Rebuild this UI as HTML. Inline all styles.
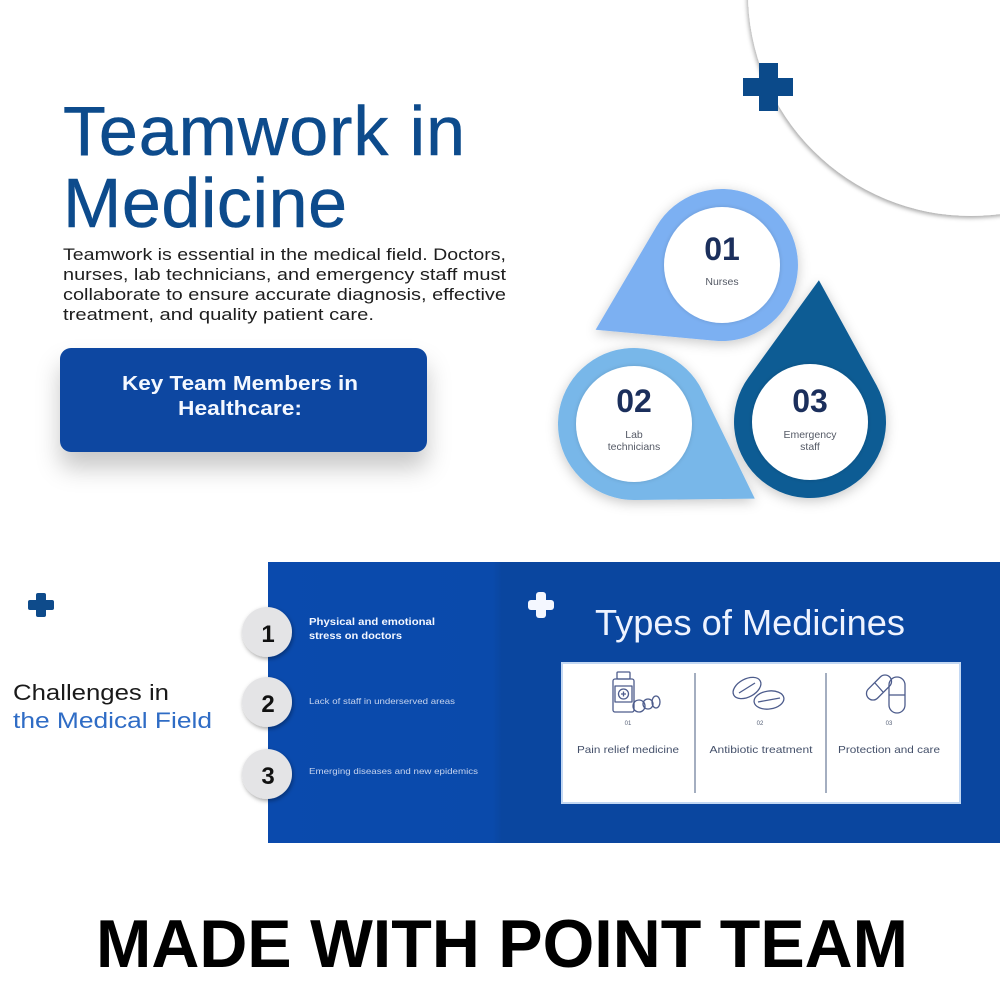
<!DOCTYPE html>
<html>
<head>
<meta charset="utf-8">
<style>
  html,body{margin:0;padding:0;background:#fff;}
  body{width:1000px;height:1000px;overflow:hidden;}
  svg{display:block;font-family:"Liberation Sans", Arial, sans-serif;}
</style>
</head>
<body>
<svg width="1000" height="1000" viewBox="0 0 1000 1000" xmlns="http://www.w3.org/2000/svg">
  <defs>
    <filter id="circShadow" x="-20%" y="-20%" width="140%" height="140%">
      <feDropShadow dx="-1" dy="2" stdDeviation="2" flood-color="#000" flood-opacity="0.35"/>
    </filter>
    <filter id="boxShadow" x="-20%" y="-30%" width="140%" height="190%">
      <feDropShadow dx="0" dy="16" stdDeviation="12" flood-color="#000" flood-opacity="0.22"/>
    </filter>
    <filter id="dropShadow" x="-30%" y="-30%" width="160%" height="160%">
      <feDropShadow dx="0" dy="3" stdDeviation="6" flood-color="#000" flood-opacity="0.22"/>
    </filter>
    <filter id="numShadow" x="-40%" y="-40%" width="180%" height="180%">
      <feDropShadow dx="1" dy="2" stdDeviation="2" flood-color="#000" flood-opacity="0.35"/>
    </filter>
    <filter id="innerSh" x="-20%" y="-20%" width="140%" height="140%">
      <feDropShadow dx="0" dy="0" stdDeviation="2" flood-color="#000" flood-opacity="0.15"/>
    </filter>
    <linearGradient id="leftPanel" x1="0" y1="0" x2="1" y2="0">
      <stop offset="0" stop-color="#0a4aad"/>
      <stop offset="0.96" stop-color="#0a4aab"/>
      <stop offset="1" stop-color="#0a469f"/>
    </linearGradient>
  </defs>

  <!-- top-right big circle -->
  <circle cx="971" cy="-7" r="223" fill="#fff" filter="url(#circShadow)"/>
  <!-- plus top -->
  <rect x="759" y="63" width="19" height="48" fill="#0b4a8a"/>
  <rect x="743" y="78" width="50" height="18" fill="#0b4a8a"/>

  <!-- Title -->
  <g fill="#0d4b8c" stroke="#0d4b8c" stroke-width="0.5">
    <text x="63" y="155" font-size="70" textLength="402" lengthAdjust="spacing">Teamwork in</text>
    <text x="63" y="227" font-size="70" textLength="284" lengthAdjust="spacing">Medicine</text>
  </g>

  <!-- Body -->
  <g font-size="16.5" fill="#1e1e1e">
    <text x="63" y="260" textLength="443" lengthAdjust="spacingAndGlyphs">Teamwork is essential in the medical field. Doctors,</text>
    <text x="63" y="280" textLength="443" lengthAdjust="spacingAndGlyphs">nurses, lab technicians, and emergency staff must</text>
    <text x="63" y="300" textLength="443" lengthAdjust="spacingAndGlyphs">collaborate to ensure accurate diagnosis, effective</text>
    <text x="63" y="320" textLength="311" lengthAdjust="spacingAndGlyphs">treatment, and quality patient care.</text>
  </g>

  <!-- Key Team box -->
  <rect x="60" y="348" width="367" height="104" rx="11" fill="#0b47a1" filter="url(#boxShadow)"/>
  <g font-size="20" font-weight="bold" fill="#f4f8ff" text-anchor="middle">
    <text x="240" y="390" textLength="236" lengthAdjust="spacingAndGlyphs">Key Team Members in</text>
    <text x="240" y="415" textLength="124" lengthAdjust="spacingAndGlyphs">Healthcare:</text>
  </g>

  <!-- Drops -->
  <g filter="url(#dropShadow)">
    <path d="M 754.8 498.6 L 634.9 500.0 A 76 76 0 1 1 702.3 390.7 Z" fill="#78b7e9"/>
    <path d="M 818.9 280.3 L 876.6 385.4 A 76 76 0 1 1 748.5 377.4 Z" fill="#0c5c94"/>
    <path d="M 595.6 329.7 L 656.5 226.4 A 76 76 0 1 1 715.0 340.7 Z" fill="#7cb0f2"/>
  </g>
  <g fill="#fff" filter="url(#innerSh)">
    <circle cx="722" cy="265" r="58"/>
    <circle cx="634" cy="424" r="58"/>
    <circle cx="810" cy="422" r="58"/>
  </g>
  <g font-weight="bold" font-size="32" fill="#1b2f5c" text-anchor="middle">
    <text x="722" y="260">01</text>
    <text x="634" y="412">02</text>
    <text x="810" y="412">03</text>
  </g>
  <g font-size="10.5" fill="#555a66" text-anchor="middle">
    <text x="722" y="285">Nurses</text>
    <text x="634" y="438">Lab</text>
    <text x="634" y="450">technicians</text>
    <text x="810" y="438">Emergency</text>
    <text x="810" y="450">staff</text>
  </g>

  <!-- Bottom band -->
  <rect x="268" y="562" width="234" height="281" fill="url(#leftPanel)"/>
  <rect x="501" y="562" width="499" height="281" fill="#0a469f"/>

  <!-- left plus -->
  <rect x="36" y="593" width="10" height="24" rx="2" fill="#0e4b8b"/>
  <rect x="28" y="600" width="26" height="10" rx="2" fill="#0e4b8b"/>

  <!-- Challenges -->
  <text x="13" y="700" font-size="22" fill="#1a1a1a" textLength="156" lengthAdjust="spacingAndGlyphs">Challenges in</text>
  <text x="13" y="728" font-size="22" fill="#2f6cc5" textLength="199" lengthAdjust="spacingAndGlyphs">the Medical Field</text>

  <!-- numbered circles -->
  <g fill="#e4e4e6" filter="url(#numShadow)">
    <circle cx="267" cy="632" r="25"/>
    <circle cx="267" cy="702" r="25"/>
    <circle cx="267" cy="774" r="25"/>
  </g>
  <g font-size="24" font-weight="bold" fill="#111" text-anchor="middle">
    <text x="268" y="642">1</text>
    <text x="268" y="712">2</text>
    <text x="268" y="784">3</text>
  </g>
  <text x="309" y="625" font-size="10.5" font-weight="bold" fill="#f2f6ff" textLength="126" lengthAdjust="spacingAndGlyphs">Physical and emotional</text>
  <text x="309" y="639" font-size="10.5" font-weight="bold" fill="#f2f6ff" textLength="93" lengthAdjust="spacingAndGlyphs">stress on doctors</text>
  <text x="309" y="704" font-size="8.5" fill="#c5d3ee" textLength="146" lengthAdjust="spacingAndGlyphs">Lack of staff in underserved areas</text>
  <text x="309" y="774" font-size="8.5" fill="#c5d3ee" textLength="169" lengthAdjust="spacingAndGlyphs">Emerging diseases and new epidemics</text>

  <!-- white plus -->
  <rect x="536" y="592" width="10" height="26" rx="3" fill="#f4f7ff"/>
  <rect x="528" y="600" width="26" height="10" rx="3" fill="#f4f7ff"/>
  <text x="595" y="635" font-size="36" fill="#eef3ff" textLength="310" lengthAdjust="spacingAndGlyphs">Types of Medicines</text>

  <!-- card -->
  <rect x="562" y="663" width="398" height="140" fill="#fff" stroke="#c3d8f3" stroke-width="2"/>
  <line x1="695" y1="673" x2="695" y2="793" stroke="#8593aa" stroke-width="1.5"/>
  <line x1="826" y1="673" x2="826" y2="793" stroke="#8593aa" stroke-width="1.5"/>

  <!-- icons -->
  <g fill="none" stroke="#4d5c8c" stroke-width="1.3" stroke-linejoin="round">
    <rect x="617" y="672" width="13" height="7" rx="1"/>
    <rect x="613" y="679" width="21" height="33" rx="2"/>
    <rect x="615" y="686" width="17" height="16"/>
    <circle cx="623.5" cy="694" r="5"/>
    <path d="M621 694 h5 M623.5 691.5 v5"/>
    <circle cx="639" cy="706" r="6"/>
    <circle cx="648" cy="704" r="5"/>
    <ellipse cx="656" cy="702" rx="4" ry="6"/>
    <ellipse cx="747" cy="688" rx="15" ry="9" transform="rotate(-28 747 688)"/>
    <path d="M739 693 L755 683"/>
    <ellipse cx="769" cy="700" rx="15" ry="9" transform="rotate(-8 769 700)"/>
    <path d="M758 702 L780 698"/>
    <rect x="864" y="681" width="30" height="13" rx="6.5" transform="rotate(-45 879 687.5)"/>
    <path d="M875 683 L883 692"/>
    <rect x="889" y="677" width="16" height="36" rx="8"/>
    <path d="M889 695 H905"/>
  </g>
  <g font-size="6" fill="#556077" text-anchor="middle">
    <text x="628" y="725">01</text>
    <text x="760" y="725">02</text>
    <text x="889" y="725">03</text>
  </g>
  <g font-size="10.5" fill="#44506a" text-anchor="middle">
    <text x="628" y="753" textLength="102" lengthAdjust="spacingAndGlyphs">Pain relief medicine</text>
    <text x="761" y="753" textLength="103" lengthAdjust="spacingAndGlyphs">Antibiotic treatment</text>
    <text x="889" y="753" textLength="102" lengthAdjust="spacingAndGlyphs">Protection and care</text>
  </g>

  <!-- footer -->
  <text x="96" y="967" font-size="68" font-weight="bold" fill="#000" textLength="812" lengthAdjust="spacingAndGlyphs">MADE WITH POINT TEAM</text>
</svg>
</body>
</html>
